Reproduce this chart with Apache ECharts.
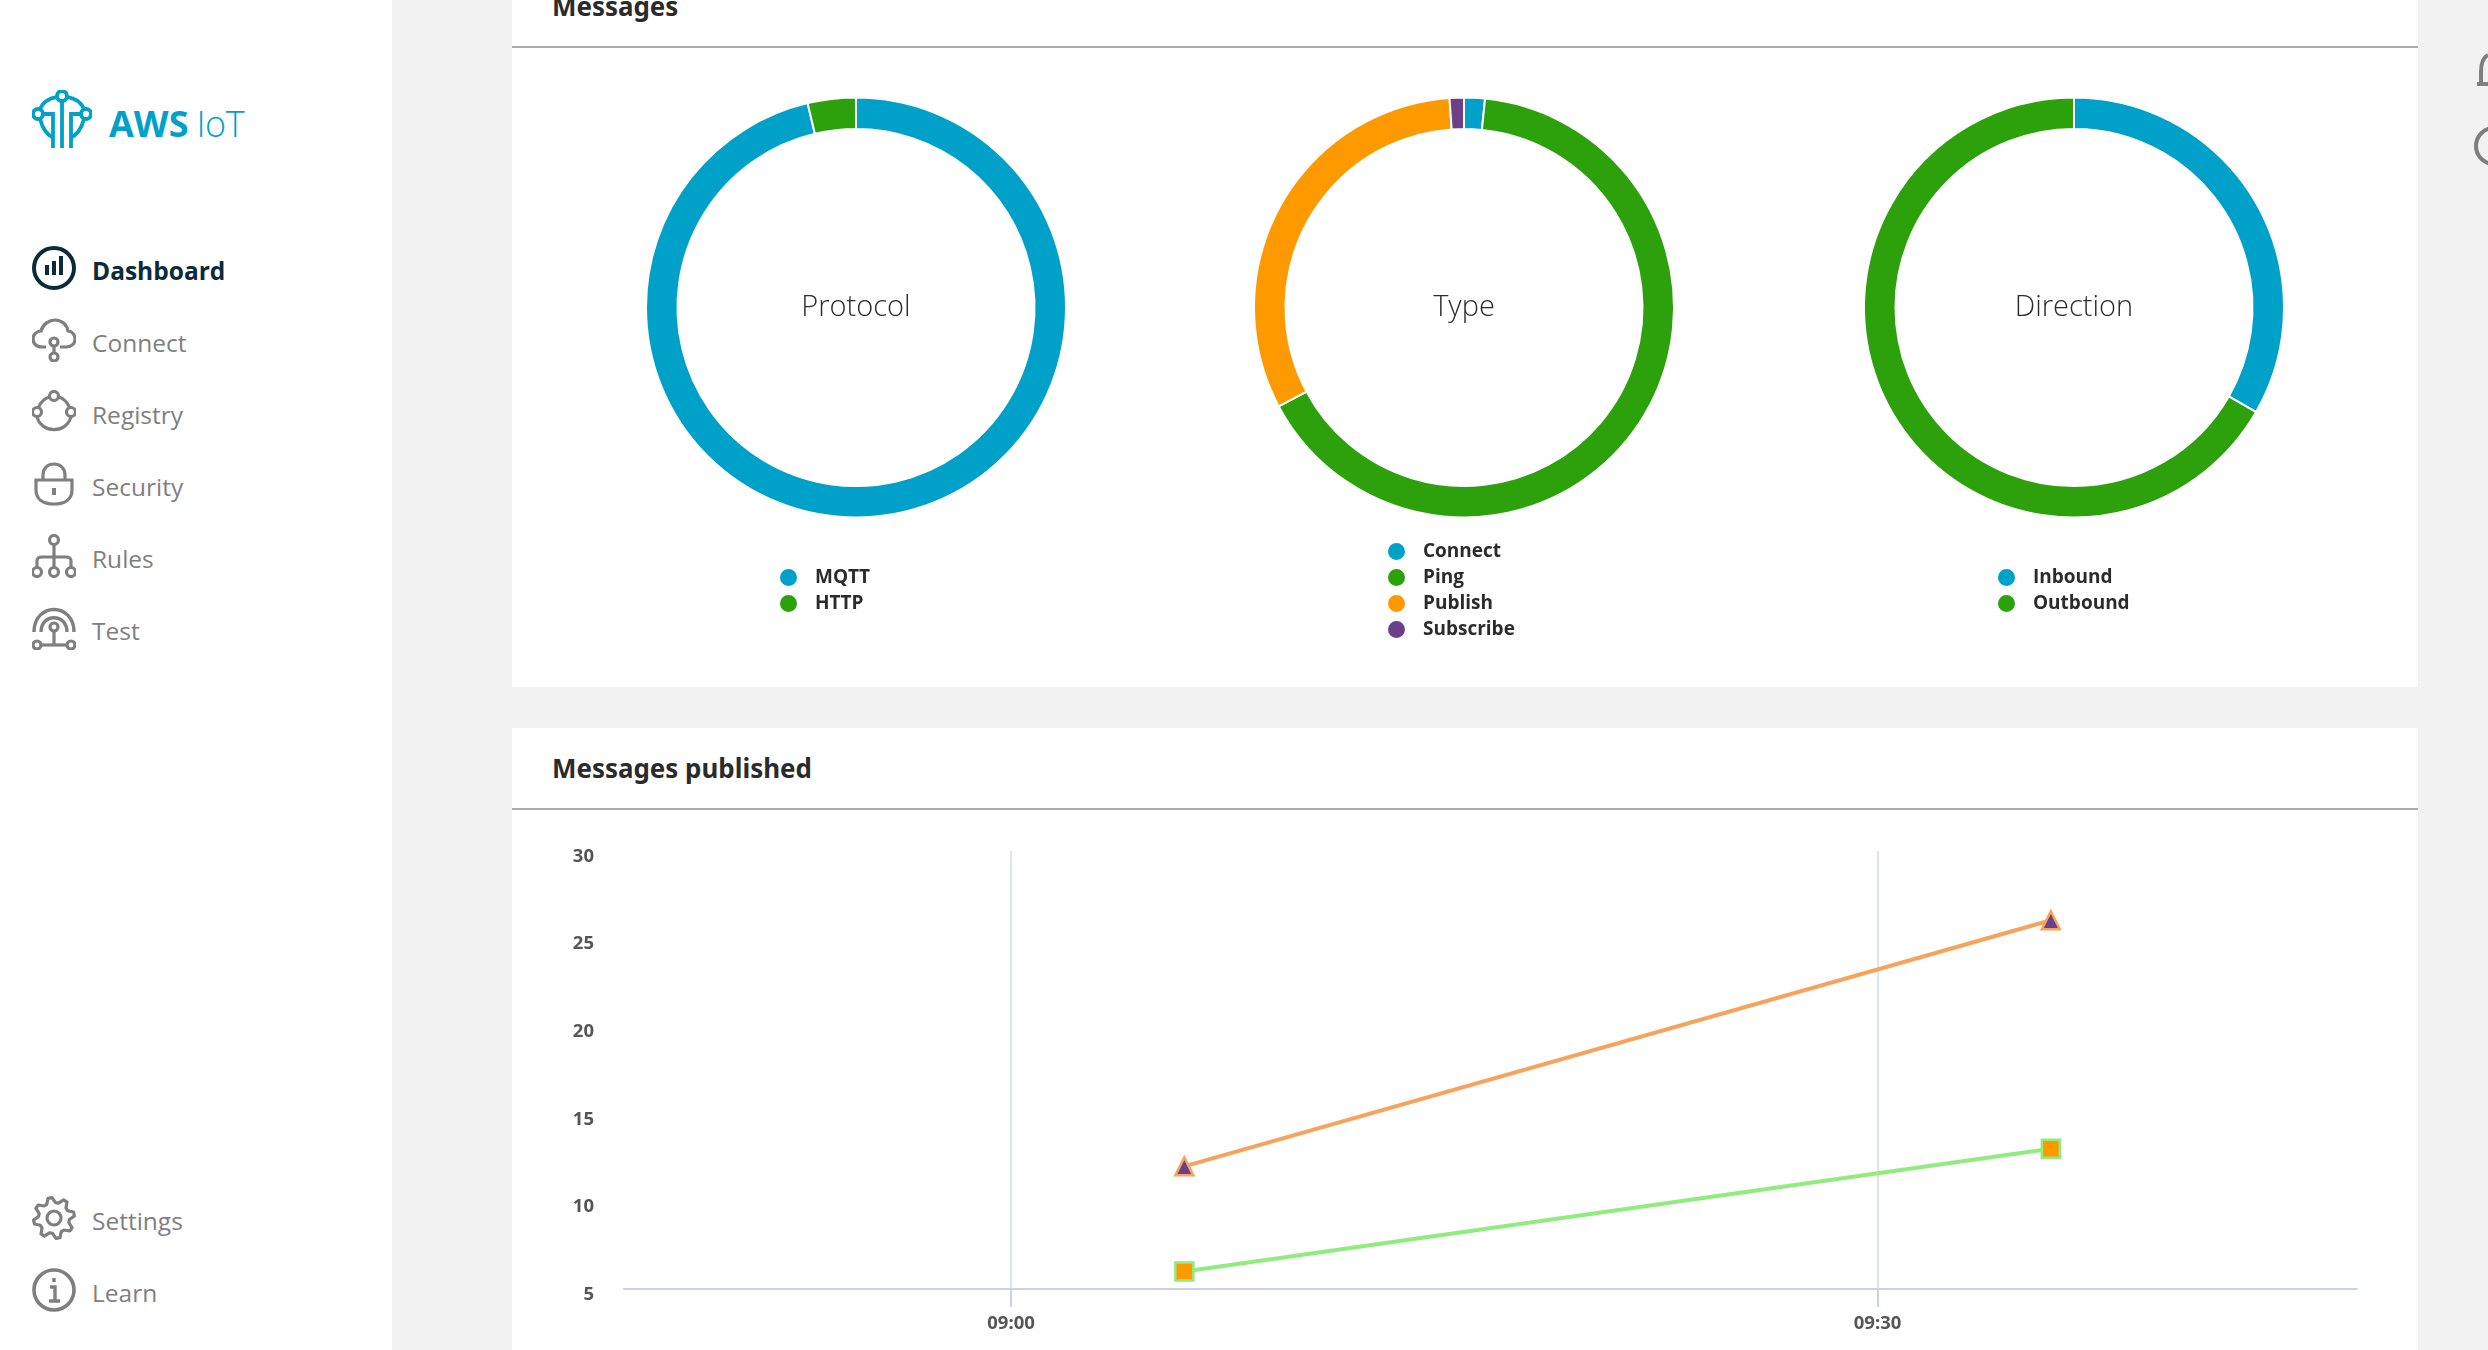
<!DOCTYPE html>
<html>
<head>
<meta charset="utf-8">
<title>AWS IoT</title>
<script src="https://cdn.jsdelivr.net/npm/echarts@6/dist/echarts.min.js"></script>
<style>
    html, body { margin: 0; padding: 0; width: 2488px; height: 1350px; overflow: hidden; background: #f2f2f2; font-family: "Open Sans", "Noto Sans", sans-serif; }
    #sidebar { position: absolute; left: 0; top: 0; width: 392px; height: 1350px; background: #fff; }
    .card { position: absolute; left: 512px; width: 1906px; background: #fff; }
    .card .rule { position: absolute; left: 0; right: 0; height: 2px; background: #aaa; }
    .card-title { position: absolute; left: 40px; font: 700 27px "Noto Sans", sans-serif; color: #2b2b2b; transform: scaleX(0.96); transform-origin: left center; white-space: nowrap; line-height: 36px; }
    #chart { position: absolute; left: 0; top: 0; width: 2488px; height: 1350px; }
    .brand { position: absolute; left: 109px; top: 100px; font-size: 36px; line-height: 48px; color: #00a1c9; white-space: nowrap; }
    .brand b { font-weight: 700; margin-right: 8px; }
    .brand span { font-weight: 300; letter-spacing: -0.5px; }
    .nav { position: absolute; left: 92px; font-size: 24.5px; line-height: 32px; color: #7f7f7f; }
    .nav.active { color: #0b2b3c; font-weight: 700; }
    svg.icon { position: absolute; left: 32px; width: 44px; height: 44px; fill: none; stroke: #7f7f7f; stroke-width: 3.2; }
    svg.top { position: absolute; left: 0; top: 0; fill: none; stroke: #7f7f7f; stroke-width: 4; }
</style>
</head>
<body>
<div id="sidebar">
    <svg class="icon" style="top:90px;width:60px;height:60px;stroke:#00a1c9;stroke-width:3.8" viewBox="0 0 60 60">
        <circle cx="30" cy="6" r="5"/><circle cx="6" cy="24" r="5"/><circle cx="54" cy="24" r="5"/>
        <path d="M25 7 Q12 9 8 19 M35 7 Q48 9 52 19 M8 29 Q12 44 22 48 M52 29 Q48 44 38 48"/>
        <path d="M30 11 V58 M11 24 H21 V58 M49 24 H39 V58"/>
    </svg>
    <div class="brand"><b>AWS</b><span>IoT</span></div>

    <svg class="icon" style="top:246px;stroke:#0b2b3c;stroke-width:4" viewBox="0 0 44 44">
        <circle cx="22" cy="22" r="20"/>
        <path d="M15 29 V19 M22 29 V15 M29 29 V10" stroke-width="4"/>
    </svg>
    <div class="nav active" style="top:255px">Dashboard</div>

    <svg class="icon" style="top:318px" viewBox="0 0 44 44">
        <path d="M14 29 H10 C3 29 1 24 1 21 C1 16 5 13 9 13 C11 6 17 2 23 2 C30 2 35 7 36 13 C40 13 43 17 43 21 C43 26 39 29 34 29 H28"/>
        <circle cx="22" cy="24" r="4"/><circle cx="22" cy="39" r="4"/><path d="M22 28 V35"/>
    </svg>
    <div class="nav" style="top:327px">Connect</div>

    <svg class="icon" style="top:390px" viewBox="0 0 44 44">
        <circle cx="22" cy="6" r="4.5"/><circle cx="5" cy="22" r="4.5"/><circle cx="39" cy="22" r="4.5"/>
        <path d="M17.5 7 Q10 9 6.5 17.5 M26.5 7 Q34 9 37.5 17.5 M5 26.5 C9 44 35 44 39 26.5"/>
    </svg>
    <div class="nav" style="top:399px">Registry</div>

    <svg class="icon" style="top:462px" viewBox="0 0 44 44">
        <path d="M4 18 H40 V28 C40 37 33 42 22 42 C11 42 4 37 4 28 Z"/>
        <path d="M11 18 V13 C11 6 16 2 22 2 C28 2 33 6 33 13 V18"/>
        <path d="M22 26 V33" stroke-width="4"/>
    </svg>
    <div class="nav" style="top:471px">Security</div>

    <svg class="icon" style="top:534px" viewBox="0 0 44 44">
        <circle cx="22" cy="6" r="4.5"/><circle cx="5" cy="38" r="4.5"/><circle cx="22" cy="38" r="4.5"/><circle cx="39" cy="38" r="4.5"/>
        <path d="M22 10 V33 M5 33 V27 Q5 23 10 23 H34 Q39 23 39 27 V33"/>
    </svg>
    <div class="nav" style="top:543px">Rules</div>

    <svg class="icon" style="top:606px" viewBox="0 0 44 44">
        <path d="M2 26 C2 -4 42 -4 42 26 M9 26 C9 7 35 7 35 26" stroke-width="3.4"/>
        <circle cx="22" cy="21" r="4"/><path d="M22 25 V38"/>
        <circle cx="5" cy="39" r="4"/><circle cx="39" cy="39" r="4"/><path d="M9 39 H35"/>
    </svg>
    <div class="nav" style="top:615px">Test</div>

    <svg class="icon" id="gear" style="top:1196px" viewBox="0 0 44 44"></svg>
    <div class="nav" style="top:1205px">Settings</div>

    <svg class="icon" style="top:1268px;stroke-width:3.6" viewBox="0 0 44 44">
        <circle cx="22" cy="22" r="20"/>
        <path d="M22 10 V14 M18 19 H23 V33 M17 33 H28" stroke-width="3.4"/>
    </svg>
    <div class="nav" style="top:1277px">Learn</div>
</div>

<div class="card" style="top:0;height:687px">
    <div class="card-title" style="top:-12px">Messages</div>
    <div class="rule" style="top:46px"></div>
</div>
<div class="card" style="top:728px;height:622px">
    <div class="card-title" style="top:22px">Messages published</div>
    <div class="rule" style="top:80px"></div>
</div>

<svg class="top" width="2488" height="1350">
    <path d="M2477 84 H2488 M2481 84 V72 C2481 62 2484 57 2488 55"/>
    <circle cx="2494" cy="146" r="18"/>
</svg>

<div id="chart"></div>

<script>
    const protocolNames = ['MQTT', 'HTTP'];
    const protocolValues = [96.3, 3.7];
    const typeNames = ['Connect', 'Ping', 'Publish', 'Subscribe'];
    const typeValues = [1.6, 65.6, 31.7, 1.1];
    const directionNames = ['Inbound', 'Outbound'];
    const directionValues = [33.3, 66.7];

    const publishedTimes = ['2018-01-01 09:06', '2018-01-01 09:36'];
    const triangleSeries = [12, 26.05];
    const squareSeries = [6, 13];
    const yTicks = [5, 10, 15, 20, 25, 30];

    const BLUE = '#00a1c9', GREEN = '#2ca10b', ORANGE = '#ff9900', PURPLE = '#6b4088';
    const protocolColors = [BLUE, GREEN];
    const typeColors = [BLUE, GREEN, ORANGE, PURPLE];
    const directionColors = [BLUE, GREEN];

    const xMin = new Date(2018, 0, 1, 8, 46, 36).getTime();
    const xMax = new Date(2018, 0, 1, 9, 46, 36).getTime();
    const xTicks = [new Date(2018, 0, 1, 9, 0).getTime(), new Date(2018, 0, 1, 9, 30).getTime()];

    // gear icon, just decoration
    (function() {
        let d = '';
        const teeth = 8;
        for (let i = 0; i < teeth * 4; i++) {
            const a = (i / (teeth * 4)) * Math.PI * 2 - Math.PI / 16 - 0.1;
            const r = (i % 4 === 0 || i % 4 === 1) ? 20.5 : 15.5;
            d += (i ? 'L' : 'M') + (22 + r * Math.cos(a)).toFixed(1) + ' ' + (22 + r * Math.sin(a)).toFixed(1);
        }
        document.getElementById('gear').innerHTML = '<path stroke-linejoin="round" d="' + d + 'Z"/><circle cx="22" cy="22" r="7"/>';
    })();

    function donut(name, names, values, colors, cx) {
        return {
            name: name,
            type: 'pie',
            center: [cx, 307.5],
            radius: [178.5, 210],
            startAngle: 90,
            clockwise: true,
            silent: true,
            label: { show: false },
            labelLine: { show: false },
            itemStyle: { borderColor: '#fff', borderWidth: 2 },
            data: names.map((n, i) => ({ name: n, value: values[i], itemStyle: { color: colors[i] } }))
        };
    }

    function legend(names, x, y) {
        return {
            orient: 'vertical',
            left: x,
            top: y,
            padding: 0,
            itemWidth: 19,
            itemHeight: 19,
            itemGap: 5,
            icon: 'circle',
            selectedMode: false,
            data: names,
            textStyle: {
                color: '#2b2b2b',
                fontFamily: 'Open Sans',
                fontWeight: 700,
                fontSize: 19,
                padding: [0, 0, 0, 12]
            }
        };
    }

    function centerText(text, x) {
        return {
            type: 'text',
            x: x,
            y: 307.5,
            style: {
                text: text,
                fill: '#2b2b2b',
                font: '300 29px "Open Sans"',
                textAlign: 'center',
                textVerticalAlign: 'middle'
            }
        };
    }

    const chart = echarts.init(document.getElementById('chart'), null, { width: 2488, height: 1350 });
    chart.setOption({
        animation: false,
        backgroundColor: 'transparent',
        legend: [
            legend(protocolNames, 778, 567),
            legend(typeNames, 1386, 541),
            legend(directionNames, 1996, 567)
        ],
        graphic: [
            centerText('Protocol', 856),
            centerText('Type', 1464),
            centerText('Direction', 2074)
        ],
        grid: { left: 624, right: 131, top: 851, bottom: 61 },
        xAxis: {
            type: 'time',
            min: xMin,
            max: xMax,
            axisLine: { lineStyle: { color: '#c8d3e8', width: 2 } },
            axisTick: { show: true, length: 18, customValues: xTicks, lineStyle: { color: '#c8d3e8', width: 2 } },
            splitLine: { show: true, lineStyle: { color: '#e0e4ee', width: 2 } },
            axisLabel: {
                formatter: '{HH}:{mm}',
                customValues: xTicks,
                margin: 25,
                color: '#555',
                fontFamily: 'Noto Sans',
                fontWeight: 700,
                fontSize: 18.5
            }
        },
        yAxis: {
            type: 'value',
            min: yTicks[0],
            max: yTicks[yTicks.length - 1],
            interval: 5,
            axisLine: { show: false },
            axisTick: { show: false },
            splitLine: { show: false },
            axisLabel: {
                margin: 30,
                verticalAlign: 'top',
                lineHeight: 11,
                color: '#555',
                fontFamily: 'Noto Sans',
                fontWeight: 700,
                fontSize: 18.5
            }
        },
        series: [
            donut('Protocol', protocolNames, protocolValues, protocolColors, 856),
            donut('Type', typeNames, typeValues, typeColors, 1464),
            donut('Direction', directionNames, directionValues, directionColors, 2074),
            {
                name: 'Messages published A',
                type: 'line',
                symbol: 'triangle',
                symbolSize: 18,
                lineStyle: { color: '#f7a35c', width: 4 },
                itemStyle: { color: PURPLE, borderColor: '#f7a35c', borderWidth: 2.5 },
                data: publishedTimes.map((t, i) => [t, triangleSeries[i]])
            },
            {
                name: 'Messages published B',
                type: 'line',
                symbol: 'rect',
                symbolSize: 18,
                lineStyle: { color: '#90ed7d', width: 4 },
                itemStyle: { color: ORANGE, borderColor: '#90ed7d', borderWidth: 2.5 },
                data: publishedTimes.map((t, i) => [t, squareSeries[i]])
            }
        ]
    });
</script>
</body>
</html>
